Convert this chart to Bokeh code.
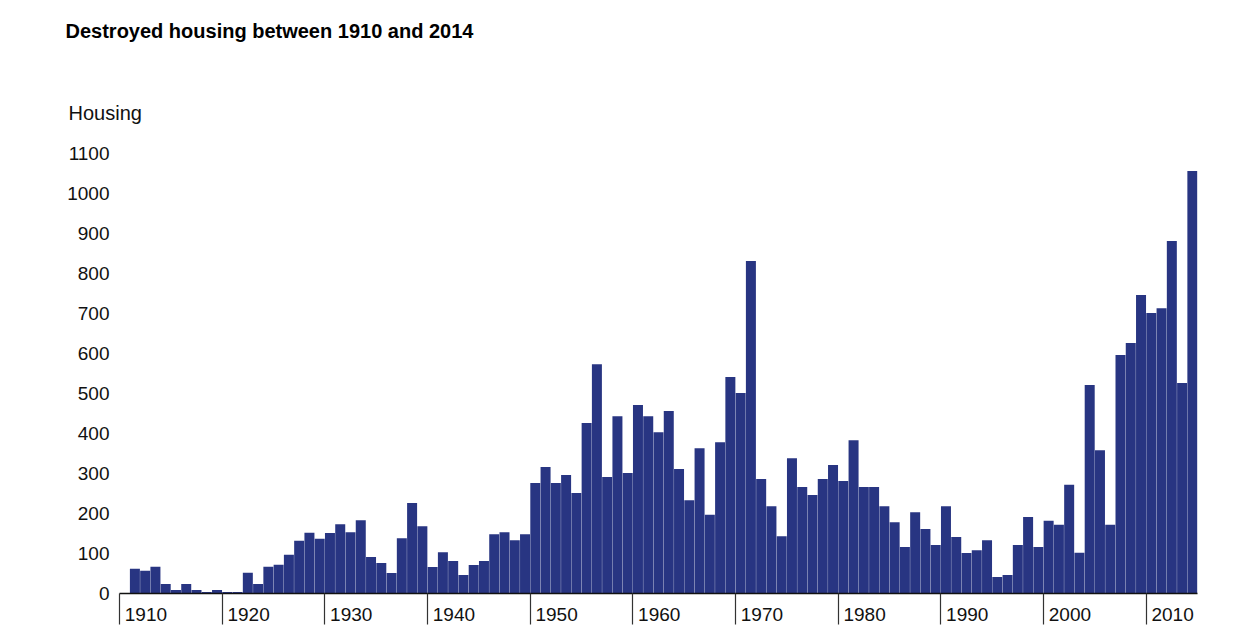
from bokeh.plotting import figure
from bokeh.models import Range1d, FixedTicker, Title
from bokeh.embed import file_html
from bokeh.resources import INLINE

# ---- data ----
years = list(range(1910, 2015))
housing_1910s = [0, 62, 57, 67, 24, 9, 24, 9, 4, 9]
housing_1920s = [4, 4, 52, 24, 67, 72, 97, 132, 152, 137]
housing_1930s = [151, 173, 153, 183, 91, 76, 51, 138, 226, 168]
housing_1940s = [66, 103, 81, 46, 71, 81, 148, 153, 133, 148]
housing_1950s = [276, 316, 276, 296, 251, 426, 573, 291, 443, 301]
housing_1960s = [471, 443, 403, 456, 311, 233, 363, 197, 378, 541]
housing_1970s = [501, 831, 286, 218, 143, 338, 266, 246, 286, 321]
housing_1980s = [281, 383, 266, 266, 218, 178, 116, 203, 161, 121]
housing_1990s = [218, 141, 101, 108, 133, 41, 46, 121, 191, 116]
housing_2000s = [182, 172, 272, 102, 521, 358, 172, 596, 626, 746]
housing_2010s = [701, 713, 881, 526, 1056]
housing = (housing_1910s + housing_1920s + housing_1930s + housing_1940s +
           housing_1950s + housing_1960s + housing_1970s + housing_1980s +
           housing_1990s + housing_2000s + housing_2010s)

x_ticks = [1910, 1920, 1930, 1940, 1950, 1960, 1970, 1980, 1990, 2000, 2010]
y_ticks = [0, 100, 200, 300, 400, 500, 600, 700, 800, 900, 1000, 1100]

title_text = "Destroyed housing between 1910 and 2014"
y_title = "Housing"

FONT = "Liberation Sans"
BAR = "#283582"

p = figure(width=1230, height=640, output_backend="svg", toolbar_location=None,
           x_range=Range1d(1910, 2015), y_range=Range1d(0, 1100),
           min_border_left=119, min_border_right=33, min_border_top=153,
           min_border_bottom=47, title=None)
p.outline_line_color = None
p.xgrid.visible = False
p.ygrid.visible = False
p.background_fill_color = "white"
p.border_fill_color = "white"

p.vbar(x=[y + 0.5 for y in years], top=housing, bottom=0, width=0.974,
       fill_color=BAR, line_color=None)

# x axis
xa = p.xaxis[0]
xa.ticker = FixedTicker(ticks=x_ticks)
xa.major_label_overrides = {t: "\u00a0" + str(t) for t in x_ticks}
xa.major_label_orientation = -1e-6
xa.major_label_text_font = FONT
xa.major_label_text_font_size = "19px"
xa.major_label_text_color = "#111111"
xa.major_label_standoff = -10
xa.major_tick_out = 31
xa.major_tick_in = 0
xa.major_tick_line_color = "#333333"
xa.major_tick_line_width = 1.2
xa.minor_tick_line_color = None
xa.axis_line_color = "#111111"
xa.axis_line_width = 1.5

# y axis
ya = p.yaxis[0]
ya.ticker = FixedTicker(ticks=y_ticks)
ya.major_label_text_font = FONT
ya.major_label_text_font_size = "19px"
ya.major_label_text_color = "#111111"
ya.major_label_standoff = 10
ya.major_tick_out = 0
ya.major_tick_in = 0
ya.minor_tick_out = 0
ya.minor_tick_in = 0
ya.major_tick_line_color = None
ya.minor_tick_line_color = None
ya.axis_line_color = None

# y caption (closest to the frame) and chart title
p.add_layout(Title(text=y_title, align="left", offset=-51, standoff=60,
                   text_font=FONT, text_font_size="20px",
                   text_font_style="normal", text_color="#111111"), "above")
p.add_layout(Title(text=title_text, align="left", offset=-54, standoff=0,
                   padding=dict(left=0, right=0, top=0, bottom=28),
                   text_font=FONT, text_font_size="20px",
                   text_font_style="bold", text_color="black"), "above")

open("out.html", "w").write(file_html(p, INLINE))
